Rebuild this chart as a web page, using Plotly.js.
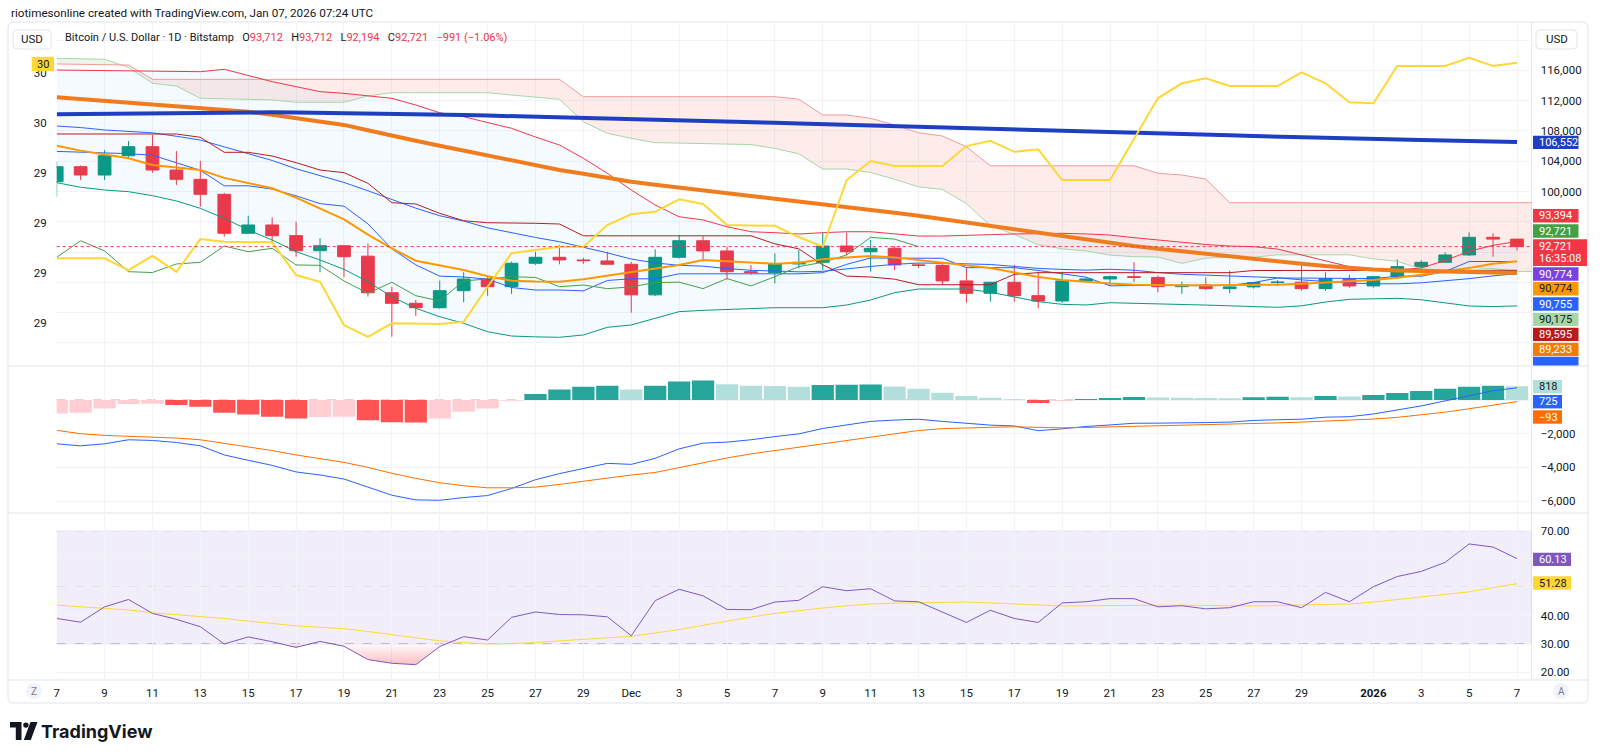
<!DOCTYPE html>
<html>
<head>
<meta charset="utf-8">
<script src="https://cdn.plot.ly/plotly-3.0.1.min.js"></script>
<style>
  html, body { margin: 0; padding: 0; background: #ffffff; }
  #chart { width: 1600px; height: 756px; }
</style>
</head>
<body>
<div id="chart"></div>
<script>
// ---------- daily bars, Bitstamp BTC/USD ----------
const DATES = [
  '2025-11-07','2025-11-08','2025-11-09','2025-11-10','2025-11-11','2025-11-12','2025-11-13','2025-11-14','2025-11-15','2025-11-16',
  '2025-11-17','2025-11-18','2025-11-19','2025-11-20','2025-11-21','2025-11-22','2025-11-23','2025-11-24','2025-11-25','2025-11-26',
  '2025-11-27','2025-11-28','2025-11-29','2025-11-30','2025-12-01','2025-12-02','2025-12-03','2025-12-04','2025-12-05','2025-12-06',
  '2025-12-07','2025-12-08','2025-12-09','2025-12-10','2025-12-11','2025-12-12','2025-12-13','2025-12-14','2025-12-15','2025-12-16',
  '2025-12-17','2025-12-18','2025-12-19','2025-12-20','2025-12-21','2025-12-22','2025-12-23','2025-12-24','2025-12-25','2025-12-26',
  '2025-12-27','2025-12-28','2025-12-29','2025-12-30','2025-12-31','2026-01-01','2026-01-02','2026-01-03','2026-01-04','2026-01-05',
  '2026-01-06','2026-01-07'
];
const LEAD_DATES = DATES.concat(['2026-01-08']);

const OPEN = [101300,103280,102180,104730,105920,102840,101610,99630,94480,95580,
  94170,92180,92840,91460,86630,85230,84650,86900,88440,87430,
  90520,91310,90960,90830,90390,86350,91310,93500,92150,89410,
  89300,90430,90650,92800,92050,92500,90300,90250,88190,86560,
  88010,86240,85540,88190,88450,88750,88650,87430,87650,87170,
  87400,87970,88030,87170,88500,87530,88750,90080,90650,91620,
  93950,93712];
const HIGH = [103940,103450,105480,106670,107470,105350,104030,99800,96810,96590,
  96020,93820,92900,93160,87430,85670,88220,89330,88700,90730,
  92050,92940,91250,92050,90700,92370,94260,94100,92700,90300,
  91840,92280,94560,94560,93600,92800,90500,90400,89980,88100,
  90300,89410,89410,88600,88900,90650,88900,88100,88680,89540,
  87970,88300,90520,89330,89000,88850,91050,90900,91970,94620,
  94480,93712];
const LOW = [99320,101520,101520,104390,102490,100860,98000,94040,94400,93160,
  91390,89330,88670,86110,80820,83560,84500,85370,86230,86480,
  90300,90390,90450,90390,84000,86200,91150,90960,88410,89050,
  87880,89860,89630,91610,89410,89630,89930,87790,85310,85450,
  85450,84570,85300,87980,87600,88050,86690,86480,87000,86560,
  87200,87500,86900,86900,87300,87300,88450,89510,90600,91500,
  91390,92194];
const CLOSE = [103280,102180,104730,105920,102840,101610,99630,94480,95580,94170,
  92180,92840,91390,86630,85230,84650,86900,88440,87430,90520,
  91310,90960,90870,90390,86350,91310,93500,92150,89410,89300,
  90430,90650,92800,92050,92500,90300,90250,88190,86560,88010,
  86240,85540,88190,88450,88750,88650,87430,87650,87170,87400,
  87970,88030,87170,88500,87530,88750,90080,90650,91620,93950,
  93712,92721];

// ---------- overlays on the price pane ----------
const SMA_LONG = [110200,110240,110280,110320,110360,110400,110430,110450,110465,110460,
  110440,110410,110370,110320,110270,110220,110160,110100,110030,109960,
  109890,109800,109720,109640,109560,109480,109400,109320,109240,109160,
  109080,109000,108920,108840,108750,108670,108580,108500,108410,108320,
  108230,108140,108050,107960,107870,107780,107690,107600,107510,107420,
  107330,107240,107160,107080,107000,106930,106860,106800,106740,106680,
  106610,106552];
const EMA_SLOW = [112450,112220,111990,111760,111530,111300,111070,110840,110550,110150,
  109700,109250,108800,108100,107350,106700,106050,105400,104700,104050,
  103500,102850,102350,101800,101300,100900,100500,100150,99770,99400,
  99050,98700,98350,97950,97550,97200,96810,96350,95900,95450,
  95000,94600,94170,93650,93160,92800,92450,92100,91750,91400,
  91080,90750,90450,90150,89860,89700,89580,89500,89430,89380,
  89300,89233];
const EMA_FAST = [106050,105400,104900,104400,103500,103200,102840,101800,101100,100430,
  99200,97800,96330,94300,92500,90860,90200,89630,88800,88220,
  88100,88090,88400,88900,89300,89800,90300,90960,90800,90600,
  90450,90600,91050,91300,91480,91300,90960,90600,90300,89900,
  89300,88700,88320,88050,87850,87700,87650,87600,87600,87650,
  87650,87700,87800,87950,88090,88300,88600,88970,89400,89900,
  90450,90774];

const BB_UPPER = [116050,116000,115960,115920,115880,115850,115830,116150,115300,114510,
  113850,113190,112970,112600,112310,111430,110410,109880,109100,108350,
  107200,106150,104390,102410,100200,98220,96670,96240,95350,94690,
  94560,94390,94560,94690,94690,94390,94120,94120,94250,94300,
  94390,94450,94480,94400,94250,93900,93590,93300,93000,92800,
  92710,92400,91600,90900,90070,89700,89650,89900,90900,92100,
  92900,93394];
const BB_BASIS = [108650,108450,108130,107950,107750,107300,106800,105900,105000,104100,
  103000,102100,101200,100100,98900,97800,96800,96100,95200,94530,
  93930,93370,92680,91900,91080,90560,90260,90140,89830,89590,
  89500,89390,89460,89730,90100,90380,90550,90530,90490,90360,
  90110,89840,89710,89610,89730,89600,89290,89070,88960,88860,
  88740,88610,88330,88150,87900,87820,87810,87940,88190,88490,
  88860,89143];
const BB_LOWER = [101170,100560,100200,99980,99450,98750,97780,96460,94920,93600,
  92050,90950,89720,88090,86100,84570,83460,82590,81480,80910,
  80800,80740,81050,82060,82370,83300,84130,84300,84440,84550,
  84650,84650,84650,85010,85670,86640,87120,87120,87120,86700,
  86100,85450,85100,85010,85310,85250,85200,85140,85000,84900,
  84790,84700,84900,85400,85760,85850,85890,85700,85300,84880,
  84800,84892];

const TENKAN = [105300,105200,105100,105000,104800,103800,102800,100750,100760,100320,
  99430,98400,98070,95730,92430,90310,88820,88710,88420,87320,
  86990,86990,86880,88250,88470,88470,89130,89130,89130,89130,
  89130,89130,89280,90380,91220,91220,91220,91180,89940,89940,
  89940,89570,89090,88690,87540,87610,87610,87610,87610,87610,
  87980,88570,88570,88570,88500,88500,88810,88810,89440,90755,
  90755,90755];
const KIJUN = [107600,107600,107600,107600,107600,107600,107160,105180,105180,104690,
  103810,102840,102490,101090,98520,98350,97120,96140,95880,95880,
  95800,95710,94150,94150,94150,94150,94150,94150,94150,94150,
  93090,92430,90310,88820,88710,88420,87690,87690,87690,87690,
  89060,89280,89280,89280,89280,89280,89280,89280,89280,89280,
  89565,89565,89565,89565,89565,89565,89565,89565,89565,89595,
  89595,89595];
const SPAN_A = [117600,117550,117470,116400,114300,113940,112310,112250,112180,112100,
  111790,111790,111790,112620,113050,113050,113050,113050,113050,112750,
  112500,112180,109220,107690,107030,106450,106400,106350,106300,106200,
  105700,104980,102965,102970,102505,101620,100620,100280,98410,95475,
  94330,92970,92425,92150,91600,91395,91350,90515,91200,91310,
  91310,91640,91640,91640,91640,91110,90780,89795,89600,89965,
  89820,89455,89435];
const SPAN_B = [116850,116800,116750,116710,114820,114820,114820,114820,114820,114820,
  114820,114820,114820,114820,114820,114820,114820,114820,114820,114820,
  114820,114820,112530,112530,112530,112530,112530,112530,112530,112530,
  112530,112200,110110,110110,109670,108790,107770,107330,105920,103400,
  103400,103400,103400,103400,103400,103400,102410,102180,101650,98520,
  98520,98520,98520,98520,98520,98520,98520,98520,98520,98520,
  98520,98520,98520];
const LAG_SHIFT = 25;   // lagging span: close plotted 25 bars back

// sentiment series on the left scale
const SENTIMENT = [29.260,29.260,29.260,29.213,29.270,29.206,29.337,29.326,29.324,29.324,
  29.193,29.166,28.993,28.946,29.000,28.997,28.997,29.006,29.146,29.280,
  29.293,29.306,29.306,29.393,29.436,29.446,29.496,29.477,29.393,29.390,
  29.390,29.345,29.306,29.573,29.649,29.629,29.629,29.629,29.709,29.730,
  29.686,29.696,29.573,29.573,29.573,29.737,29.900,29.960,29.980,29.949,
  29.949,29.949,30.004,29.960,29.884,29.880,30.029,30.029,30.029,30.062,
  30.029,30.042];

// ---------- MACD ----------
const MACD = [-2600,-2720,-2600,-2360,-2400,-2520,-2720,-3260,-3580,-3880,
  -4270,-4450,-4690,-5190,-5650,-5930,-5950,-5790,-5670,-5250,
  -4730,-4370,-4050,-3760,-3820,-3460,-2900,-2560,-2500,-2360,
  -2170,-2010,-1690,-1480,-1270,-1190,-1140,-1270,-1400,-1490,
  -1540,-1820,-1710,-1570,-1480,-1380,-1375,-1370,-1340,-1310,
  -1215,-1170,-1140,-1020,-990,-830,-610,-350,-50,270,
  550,725];
const SIGNAL = [-1800,-2000,-2100,-2140,-2200,-2260,-2360,-2560,-2760,-3000,
  -3260,-3480,-3700,-4000,-4350,-4650,-4910,-5090,-5210,-5210,
  -5170,-5010,-4810,-4610,-4450,-4300,-4000,-3720,-3440,-3200,
  -3000,-2800,-2580,-2390,-2190,-1990,-1810,-1700,-1640,-1620,
  -1590,-1640,-1650,-1630,-1600,-1560,-1525,-1500,-1460,-1420,
  -1385,-1360,-1310,-1260,-1200,-1130,-1030,-890,-720,-520,
  -300,-93];
const HIST = [-800,-760,-500,-240,-220,-300,-400,-760,-860,-1000,
  -1100,-1010,-1000,-1200,-1320,-1330,-1100,-700,-500,-40,
  360,620,780,840,620,840,1100,1160,940,840,
  830,790,890,910,920,800,670,430,240,130,
  50,-180,-60,60,120,180,150,130,120,110,
  170,190,170,240,210,300,420,540,670,790,
  850,818];

// ---------- RSI ----------
const RSI = [39.0,37.7,43.1,45.7,40.8,38.7,36.1,30.0,32.5,30.8,
  28.8,30.9,29.2,24.5,23.2,22.7,29.1,32.6,31.4,39.4,
  41.3,40.4,40.3,39.6,32.9,45.3,49.3,47.0,42.2,42.1,
  44.8,45.4,50.2,48.8,49.5,45.2,44.9,41.2,37.6,41.9,
  39.0,37.6,44.5,44.9,46.0,46.0,43.1,43.5,42.4,42.8,
  44.9,44.9,42.8,48.2,44.9,50.2,53.8,55.6,58.8,65.3,
  64.2,60.13];
const RSI_MA = [43.7,43.2,42.6,42.0,41.0,40.4,39.8,39.0,38.1,37.2,
  36.4,35.9,35.4,34.4,33.3,32.2,31.1,30.5,30.0,30.2,
  30.5,31.1,31.7,32.2,32.7,33.9,35.1,36.6,38.1,39.5,
  40.8,41.8,42.7,43.5,44.1,44.4,44.6,44.7,44.8,44.5,
  44.1,43.8,43.4,43.5,43.6,43.7,43.8,43.7,43.6,43.5,
  43.4,43.6,43.8,43.9,44.1,44.8,45.7,46.6,47.5,48.4,
  49.9,51.28];
const RSI_LEVELS = [70, 50, 30];

// ---------- axis ticks ----------
const TICK_DATES = ['2025-11-07','2025-11-09','2025-11-11','2025-11-13','2025-11-15','2025-11-17','2025-11-19','2025-11-21',
  '2025-11-23','2025-11-25','2025-11-27','2025-11-29','2025-12-01','2025-12-03','2025-12-05','2025-12-07','2025-12-09',
  '2025-12-11','2025-12-13','2025-12-15','2025-12-17','2025-12-19','2025-12-21','2025-12-23','2025-12-25','2025-12-27',
  '2025-12-29','2026-01-01','2026-01-03','2026-01-05','2026-01-07'];
const TICK_TEXT = ['7','9','11','13','15','17','19','21','23','25','27','29','Dec','3','5','7','9','11','13','15',
  '17','19','21','23','25','27','29','<b>2026</b>','3','5','7'];
const PRICE_TICKS = [80000,84000,88000,92000,96000,100000,104000,108000,112000,116000,120000];
const PRICE_TICK_TEXT = ['','','','','','100,000','104,000','108,000','112,000','116,000',''];
const LEFT_TICKS = [30.0,29.8,29.6,29.4,29.2,29.0];
const LEFT_TICK_TEXT = ['30','30','29','29','29','29'];
const MACD_TICKS = [0,-2000,-4000,-6000];
const MACD_TICK_TEXT = ['','\u22122,000','\u22124,000','\u22126,000'];
const RSI_TICKS = [20,30,40,50,60,70];
const RSI_TICK_TEXT = ['20.00','30.00','40.00','','','70.00'];

// ---------- page geometry (pixels) ----------
const W = 1600, H = 756;
const X = v => v / W;
const Y = v => 1 - v / H;
const PLOT_L = 56.7, PLOT_R = 1531.7;
const MAIN_TOP = 23, MAIN_BOT = 366, MACD_BOT = 513, RSI_BOT = 680;
const FONT = "Roboto, 'Liberation Sans', sans-serif";
const DARK = '#131722';
const GRID = '#F0F3FA';
const GREEN = '#089981', RED = '#F23645';

const fmt = v => (v < 0 ? '\u2212' : '') + Math.round(Math.abs(v)).toLocaleString('en-US');
const toMs = d => Date.parse(d + 'T00:00:00Z');
const DAY = 86400000;

// split the band between two series into same-sign polygons (with crossing points)
function bandPolygons(dates, a, b) {
  const xs = dates.map(toMs);
  const pts = [];
  for (let i = 0; i < xs.length; i++) {
    if (i > 0) {
      const d0 = a[i - 1] - b[i - 1], d1 = a[i] - b[i];
      if ((d0 > 0 && d1 < 0) || (d0 < 0 && d1 > 0)) {
        const t = d0 / (d0 - d1);
        const yc = a[i - 1] + t * (a[i] - a[i - 1]);
        pts.push({ x: xs[i - 1] + t * (xs[i] - xs[i - 1]), a: yc, b: yc, s: 0 });
      }
    }
    const d = a[i] - b[i];
    pts.push({ x: xs[i], a: a[i], b: b[i], s: d > 0 ? 1 : (d < 0 ? -1 : 0) });
  }
  const groups = [];
  let cur = null;
  for (const p of pts) {
    if (p.s === 0) {
      if (cur) { cur.pts.push(p); groups.push(cur); }
      cur = { s: null, pts: [p] };
      continue;
    }
    if (!cur) cur = { s: p.s, pts: [p] };
    else if (cur.s === null) { cur.s = p.s; cur.pts.push(p); }
    else if (cur.s === p.s) cur.pts.push(p);
    else { groups.push(cur); cur = { s: p.s, pts: [p] }; }
  }
  if (cur) groups.push(cur);
  return groups.filter(g => g.s !== null && g.pts.length > 1).map(g => {
    const rev = g.pts.slice().reverse();
    return { s: g.s, x: g.pts.map(p => p.x).concat(rev.map(p => p.x)), y: g.pts.map(p => p.a).concat(rev.map(p => p.b)) };
  });
}

const line = (x, y, color, width, xa, ya, extra) => Object.assign({
  type: 'scatter', mode: 'lines', x, y, xaxis: xa, yaxis: ya,
  line: { color, width, shape: 'linear' }, hoverinfo: 'skip'
}, extra || {});

const data = [];

// Bollinger fill
data.push(line(DATES, BB_UPPER, 'rgba(0,0,0,0)', 0, 'x', 'y'));
data.push(line(DATES, BB_LOWER, 'rgba(0,0,0,0)', 0, 'x', 'y', { fill: 'tonexty', fillcolor: 'rgba(33,150,243,0.05)' }));

// Ichimoku cloud
bandPolygons(LEAD_DATES, SPAN_A, SPAN_B).forEach(p => {
  data.push({ type: 'scatter', mode: 'lines', x: p.x, y: p.y, xaxis: 'x', yaxis: 'y', fill: 'toself',
    fillcolor: p.s > 0 ? 'rgba(67,160,71,0.10)' : 'rgba(244,67,54,0.10)', line: { width: 0 }, hoverinfo: 'skip' });
});
data.push(line(LEAD_DATES, SPAN_A, '#A5D6A7', 1, 'x', 'y'));
data.push(line(LEAD_DATES, SPAN_B, '#EF9A9A', 1, 'x', 'y'));

// Bollinger lines
data.push(line(DATES, BB_UPPER, RED, 1, 'x', 'y'));
data.push(line(DATES, BB_LOWER, GREEN, 1, 'x', 'y'));
data.push(line(DATES, BB_BASIS, '#2962FF', 1, 'x', 'y'));

// Ichimoku lines
data.push(line(DATES, TENKAN, '#2962FF', 1, 'x', 'y'));
data.push(line(DATES, KIJUN, '#B71C1C', 1, 'x', 'y'));
data.push(line(DATES.slice(0, DATES.length - LAG_SHIFT), CLOSE.slice(LAG_SHIFT), '#43A047', 1, 'x', 'y'));

// moving averages
data.push(line(DATES, EMA_FAST, '#FF9800', 2, 'x', 'y'));
data.push(line(DATES, EMA_SLOW, '#F07C1E', 4, 'x', 'y'));
data.push(line(DATES, SMA_LONG, '#1E3FBF', 4, 'x', 'y'));

// candles
data.push({
  type: 'candlestick', x: DATES, open: OPEN, high: HIGH, low: LOW, close: CLOSE,
  xaxis: 'x', yaxis: 'y', whiskerwidth: 0, hoverinfo: 'skip',
  increasing: { line: { color: GREEN, width: 1 }, fillcolor: GREEN },
  decreasing: { line: { color: RED, width: 1 }, fillcolor: RED }
});

// sentiment line on the left scale
data.push(line(DATES, SENTIMENT, '#FDD835', 2, 'x', 'y2'));

// MACD pane
const histColors = HIST.map((v, i) => {
  const prev = i > 0 ? HIST[i - 1] : v;
  if (v >= 0) return v > prev ? '#26A69A' : '#B2DFDB';
  return v < prev ? '#FF5252' : '#FFCDD2';
});
data.push({ type: 'bar', x: DATES, y: HIST, xaxis: 'x2', yaxis: 'y3', width: 0.93 * DAY,
  marker: { color: histColors, line: { width: 0 } }, hoverinfo: 'skip' });
data.push(line(DATES, MACD, '#2962FF', 1, 'x2', 'y3'));
data.push(line(DATES, SIGNAL, '#FF6D00', 1, 'x2', 'y3'));

// RSI pane: oversold area shaded with a soft vertical gradient
bandPolygons(DATES, RSI, RSI.map(() => 30)).filter(p => p.s < 0).forEach(p => {
  data.push({ type: 'scatter', mode: 'lines', x: p.x, y: p.y, xaxis: 'x3', yaxis: 'y4', fill: 'toself',
    fillcolor: 'rgba(242,54,69,0.18)',
    fillgradient: { type: 'vertical', colorscale: [[0, 'rgba(242,54,69,0.32)'], [1, 'rgba(242,54,69,0.02)']] },
    line: { width: 0 }, hoverinfo: 'skip' });
});
data.push(line(DATES, RSI_MA, '#FDD835', 1, 'x3', 'y4'));
data.push(line(DATES, RSI, '#7E57C2', 1, 'x3', 'y4'));

// ---------- shapes & annotations ----------
const shapes = [];
const ann = [];
const P = (x, y) => X(x).toFixed(5) + ',' + Y(y).toFixed(5);

function rect(x0, y0, x1, y1, fill, lineColor, layer) {
  shapes.push({ type: 'rect', xref: 'paper', yref: 'paper', x0: X(x0), x1: X(x1), y0: Y(y1), y1: Y(y0),
    fillcolor: fill, line: { width: lineColor ? 1 : 0, color: lineColor || fill }, layer: layer || 'above' });
}
function hline(x0, x1, y, color, dash, width) {
  shapes.push({ type: 'line', xref: 'paper', yref: 'paper', x0: X(x0), x1: X(x1), y0: Y(y), y1: Y(y),
    line: { color, width: width || 1, dash: dash || 'solid' }, layer: 'below' });
}
function vline(x, y0, y1, color) {
  shapes.push({ type: 'line', xref: 'paper', yref: 'paper', x0: X(x), x1: X(x), y0: Y(y0), y1: Y(y1),
    line: { color, width: 1 }, layer: 'below' });
}
function text(x, y, t, opts) {
  ann.push(Object.assign({ xref: 'paper', yref: 'paper', x: X(x), y: Y(y), text: t, showarrow: false,
    xanchor: 'left', yanchor: 'middle', font: { family: FONT, size: 12, color: DARK } }, opts || {}));
}
function roundRect(x0, y0, x1, y1, r, stroke, fill) {
  const path = 'M' + P(x0 + r, y0) + ' L' + P(x1 - r, y0) + ' Q' + P(x1, y0) + ' ' + P(x1, y0 + r) +
    ' L' + P(x1, y1 - r) + ' Q' + P(x1, y1) + ' ' + P(x1 - r, y1) + ' L' + P(x0 + r, y1) +
    ' Q' + P(x0, y1) + ' ' + P(x0, y1 - r) + ' L' + P(x0, y0 + r) + ' Q' + P(x0, y0) + ' ' + P(x0 + r, y0) + ' Z';
  shapes.push({ type: 'path', xref: 'paper', yref: 'paper', path, line: { color: stroke, width: 1 },
    fillcolor: fill || 'rgba(0,0,0,0)', layer: 'above' });
}
const TAG_FONT = 11;
function tag(x0, x1, top, h, bg, fg, t) {
  rect(x0, top, x1, top + h, bg);
  text(x0 + 3.5, top + h / 2, t, { font: { family: FONT, size: TAG_FONT, color: fg } });
}

// outer frame, pane separators, scale border
roundRect(8, 22, 1588, 703, 6, '#E0E3EB');
hline(8, 1588, MAIN_BOT, '#E0E3EB');
hline(8, 1588, MACD_BOT, '#E0E3EB');
hline(8, 1588, RSI_BOT, '#E0E3EB');
vline(PLOT_R, 22, RSI_BOT, '#E0E3EB');

// RSI background band and levels
shapes.push({ type: 'rect', xref: 'x3 domain', yref: 'y4', x0: 0, x1: 1, y0: RSI_LEVELS[2], y1: RSI_LEVELS[0],
  fillcolor: 'rgba(126,87,194,0.10)', line: { width: 0 }, layer: 'below' });
RSI_LEVELS.forEach((lv, i) => {
  shapes.push({ type: 'line', xref: 'x3 domain', yref: 'y4', x0: 0, x1: 1, y0: lv, y1: lv,
    line: { color: i === 1 ? 'rgba(120,123,134,0.5)' : '#8A8D99', width: 1, dash: 'dash' }, layer: 'below' });
});
// MACD zero line
shapes.push({ type: 'line', xref: 'x2 domain', yref: 'y3', x0: 0, x1: 1, y0: 0, y1: 0,
  line: { color: 'rgba(120,123,134,0.6)', width: 1, dash: 'dash' }, layer: 'below' });
// last price line
const LAST = CLOSE[CLOSE.length - 1];
shapes.push({ type: 'line', xref: 'x domain', yref: 'y', x0: 0, x1: 1, y0: LAST, y1: LAST,
  line: { color: RED, width: 1, dash: 'dot' }, layer: 'above' });

// header
text(9, 13, 'riotimesonline created with TradingView.com, Jan 07, 2026 07:24 UTC', { font: { family: FONT, size: 11.7, color: DARK } });

// legend row
const last = CLOSE.length - 1;
const chg = CLOSE[last] - CLOSE[last - 1];
const pct = chg / CLOSE[last - 1] * 100;
const red = s => '<span style="color:' + RED + '">' + s + '</span>';
const legend = 'Bitcoin / U.S. Dollar \u00b7 1D \u00b7 Bitstamp\u2002 O' + red(fmt(OPEN[last])) +
  '\u2002 H' + red(fmt(HIGH[last])) + '\u2002 L' + red(fmt(LOW[last])) + '\u2002 C' + red(fmt(CLOSE[last])) +
  '\u2002 ' + red(fmt(chg) + ' (' + (pct < 0 ? '\u2212' : '') + Math.abs(pct).toFixed(2) + '%)');
text(63, 38, legend, { font: { family: FONT, size: 11, color: DARK } });

// USD buttons
roundRect(13, 30, 51, 49, 4, '#E0E3EB', '#ffffff');
text(32, 39.5, 'USD', { xanchor: 'center', font: { family: FONT, size: 11.5, color: DARK } });
roundRect(1536, 30, 1577, 49, 4, '#E0E3EB', '#ffffff');
text(1556.5, 39.5, 'USD', { xanchor: 'center', font: { family: FONT, size: 11.5, color: DARK } });

// price scale tags
const TAG_X0 = 1533, TAG_X1 = 1578.5, TAG_H = 13.4;
tag(TAG_X0, TAG_X1, 135.7, TAG_H, '#1E3FBF', '#ffffff', fmt(SMA_LONG[last]));
tag(TAG_X0, TAG_X1, 209.0, TAG_H, RED, '#ffffff', fmt(BB_UPPER[last]));
tag(TAG_X0, TAG_X1, 224.3, TAG_H, '#43A047', '#ffffff', fmt(CLOSE[last]));
rect(TAG_X0, 239.3, 1587, 266, RED);
text(TAG_X0 + 3.5, 246.2, fmt(LAST), { font: { family: FONT, size: TAG_FONT, color: '#ffffff' } });
text(TAG_X0 + 3.5, 258.8, '16:35:08', { font: { family: FONT, size: TAG_FONT, color: '#ffffff' } });
tag(TAG_X0, TAG_X1, 267.3, TAG_H, '#7B3FE4', '#ffffff', fmt(EMA_FAST[last]));
tag(TAG_X0, TAG_X1, 282.0, TAG_H, '#FF9800', DARK, fmt(EMA_FAST[last]));
tag(TAG_X0, TAG_X1, 297.3, TAG_H, '#2962FF', '#ffffff', fmt(TENKAN[last]));
tag(TAG_X0, TAG_X1, 312.7, TAG_H, '#A5D6A7', DARK, fmt((TENKAN[last] + KIJUN[last]) / 2));
tag(TAG_X0, TAG_X1, 327.7, TAG_H, '#B71C1C', '#ffffff', fmt(KIJUN[last]));
tag(TAG_X0, TAG_X1, 342.7, TAG_H, '#F57C00', '#ffffff', fmt(EMA_SLOW[last]));
rect(TAG_X0, 356.7, TAG_X1, MAIN_BOT - 0.5, '#2962FF');   // basis tag, cut by the pane edge

// MACD tags
tag(TAG_X0, 1562, 380.0, TAG_H, '#B2DFDB', DARK, fmt(HIST[last]));
tag(TAG_X0, 1562, 395.0, TAG_H, '#2962FF', '#ffffff', fmt(MACD[last]));
tag(TAG_X0, 1562, 410.3, TAG_H, '#FF6D00', '#ffffff', fmt(SIGNAL[last]));

// RSI tags
tag(TAG_X0, 1571, 552.7, TAG_H, '#7E57C2', '#ffffff', RSI[last].toFixed(2));
tag(TAG_X0, 1571, 576.3, TAG_H, '#FDD835', DARK, RSI_MA[last].toFixed(2));

// left scale tag
tag(31.7, 54, 56.8, 14.4, '#FDD835', DARK, String(Math.round(SENTIMENT[last])));

// scale mode buttons
shapes.push({ type: 'circle', xref: 'paper', yref: 'paper', x0: X(26), x1: X(42), y0: Y(699), y1: Y(683),
  fillcolor: '#F0F3FA', line: { width: 0 }, layer: 'above' });
text(34, 691, 'Z', { xanchor: 'center', font: { family: FONT, size: 10, color: '#787B86' } });
shapes.push({ type: 'circle', xref: 'paper', yref: 'paper', x0: X(1553), x1: X(1569), y0: Y(699), y1: Y(683),
  fillcolor: '#F0F3FA', line: { width: 0 }, layer: 'above' });
text(1561, 691, 'A', { xanchor: 'center', font: { family: FONT, size: 10, color: '#787B86' } });

// brand mark
const logo = pts => 'M' + pts.map(p => P(p[0], p[1])).join(' L') + ' Z';
shapes.push({ type: 'path', xref: 'paper', yref: 'paper', layer: 'above', fillcolor: DARK, line: { width: 0 },
  path: logo([[10, 722], [21.5, 722], [21.5, 740], [15.8, 740], [15.8, 727.6], [10, 727.6]]) });
shapes.push({ type: 'circle', xref: 'paper', yref: 'paper', layer: 'above', fillcolor: DARK, line: { width: 0 },
  x0: X(23.2), x1: X(28.6), y0: Y(727.8), y1: Y(722.4) });
shapes.push({ type: 'path', xref: 'paper', yref: 'paper', layer: 'above', fillcolor: DARK, line: { width: 0 },
  path: logo([[30.5, 722], [37.5, 722], [30.8, 740], [23.8, 740]]) });
text(39, 731, '<b>TradingView</b>', { font: { family: 'Inter, Roboto, sans-serif', size: 18, color: DARK } });

// ---------- axes ----------
const X_RANGE = ['2025-11-07 00:00', '2026-01-07 14:44'];
const xBase = {
  type: 'date', range: X_RANGE, domain: [X(PLOT_L), X(PLOT_R)],
  tickmode: 'array', tickvals: TICK_DATES, ticktext: TICK_TEXT,
  showgrid: true, gridcolor: GRID, gridwidth: 1, zeroline: false, showline: false, ticks: '',
  fixedrange: true
};
const yBase = { zeroline: false, showline: false, ticks: '', fixedrange: true, gridcolor: GRID, gridwidth: 1,
  tickfont: { family: FONT, size: 11.5, color: DARK }, tickmode: 'array' };

const layout = {
  width: W, height: H, margin: { l: 0, r: 0, t: 0, b: 0 },
  paper_bgcolor: '#ffffff', plot_bgcolor: 'rgba(0,0,0,0)',
  showlegend: false, hovermode: false, boxgap: 0.24,
  font: { family: FONT, size: 12, color: DARK },
  xaxis: Object.assign({}, xBase, { anchor: 'y', showticklabels: false, rangeslider: { visible: false } }),
  xaxis2: Object.assign({}, xBase, { anchor: 'y3', showticklabels: false, matches: 'x' }),
  xaxis3: Object.assign({}, xBase, { anchor: 'y4', showticklabels: true, matches: 'x',
    tickfont: { family: FONT, size: 11.5, color: DARK }, ticklabelstandoff: 4 }),
  yaxis: Object.assign({}, yBase, { domain: [Y(MAIN_BOT), Y(MAIN_TOP)], range: [76951, 122262], side: 'right',
    anchor: 'x', tickvals: PRICE_TICKS, ticktext: PRICE_TICK_TEXT, showgrid: true, ticklabelstandoff: 8 }),
  yaxis2: Object.assign({}, yBase, { overlaying: 'y', side: 'left', anchor: 'x', range: [28.8292, 30.2012],
    tickvals: LEFT_TICKS, ticktext: LEFT_TICK_TEXT, showgrid: false, ticklabelstandoff: 9 }),
  yaxis3: Object.assign({}, yBase, { domain: [Y(MACD_BOT), Y(MAIN_BOT)], range: [-6706, 2018], side: 'right',
    anchor: 'x2', tickvals: MACD_TICKS, ticktext: MACD_TICK_TEXT, showgrid: true, ticklabelstandoff: 8 }),
  yaxis4: Object.assign({}, yBase, { domain: [Y(RSI_BOT), Y(MACD_BOT)], range: [17.3, 76.21], side: 'right',
    anchor: 'x3', tickvals: RSI_TICKS, ticktext: RSI_TICK_TEXT, showgrid: true, ticklabelstandoff: 8 }),
  shapes, annotations: ann
};

Plotly.newPlot('chart', data, layout, { staticPlot: true, displayModeBar: false });
</script>
</body>
</html>
